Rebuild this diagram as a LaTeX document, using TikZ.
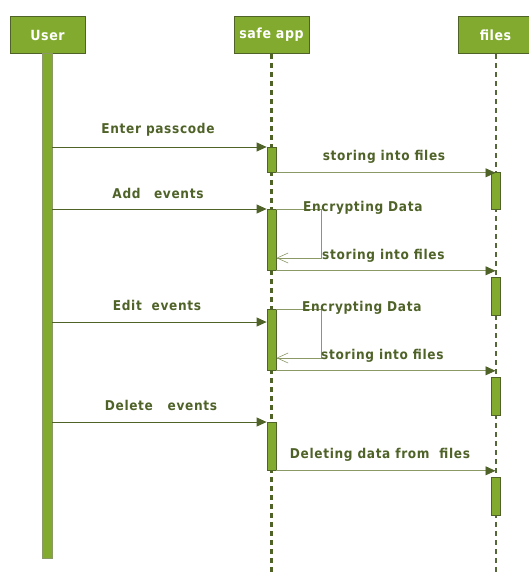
\documentclass[tikz,border=0pt]{standalone}
\usepackage{fontspec}
\setmainfont{DejaVu Sans}
\newfontfamily\narrowsans{DejaVu Sans Condensed}
\usetikzlibrary{arrows.meta}
\definecolor{leaf}{HTML}{82AA2E}
\definecolor{bark}{HTML}{4F6228}
\definecolor{moss}{HTML}{8A9966}
\definecolor{trail}{HTML}{55683A}
\tikzset{
  head/.style={draw=bark, line width=0.9pt, fill=leaf, minimum width=75pt, minimum height=37pt,
    inner sep=0pt, text=white, font=\narrowsans\bfseries\fontsize{14}{15}\selectfont\addfontfeatures{LetterSpace=4}},
  actbar/.style={draw=bark, line width=0.8pt, fill=leaf, minimum width=9pt, inner sep=0pt, anchor=north},
  userbar/.style={draw=moss, line width=0.6pt, fill=leaf, minimum width=10pt, inner sep=0pt, anchor=north},
  msg/.style={draw=bark, line width=0.8pt, -{Triangle[length=10pt,width=9pt]}},
  reply/.style={draw=moss, line width=0.8pt, -{Triangle[length=10pt,width=9pt,color=bark]}},
  selfmsg/.style={draw=moss, line width=0.8pt, -{Straight Barb[length=11pt,width=10pt,line width=0.6pt]}},
  lbl/.style={text=bark, font=\narrowsans\bfseries\fontsize{13.5}{14}\selectfont\addfontfeatures{LetterSpace=5}, inner sep=0pt},
  lifethick/.style={draw=bark, line width=2.6pt, dash pattern=on 5pt off 4pt},
  lifethin/.style={draw=trail, line width=2pt, dash pattern=on 5pt off 4pt},
}
\begin{document}
\begin{tikzpicture}[x=1pt,y=-1pt]
\useasboundingbox (0,0) rectangle (529,572);
\clip (0,0) rectangle (529,572);

% participant heads
\node[head] (user) at (47.5,35) {User};
\node[head] (app)  at (271.5,35) {safe app};
\node[head] (files) at (495.5,35) {files};

% lifelines
\coordinate (appEnd) at (271.5,572);
\coordinate (filesEnd) at (495.5,572);
\draw[lifethick] (app.south) -- (appEnd);
\draw[lifethin] (files.south) -- (filesEnd);

% user activation
\node[userbar, minimum height=505pt] (ubar) at (47,53) {};

% safe app activations
\node[actbar, minimum height=25pt] (a1) at (271.5,147) {};
\node[actbar, minimum height=61pt] (a2) at (271.5,209) {};
\node[actbar, minimum height=61pt] (a3) at (271.5,309) {};
\node[actbar, minimum height=48pt] (a4) at (271.5,422) {};

% files activations
\node[actbar, minimum height=37pt] (f1) at (496,172) {};
\node[actbar, minimum height=38pt] (f2) at (496,277) {};
\node[actbar, minimum height=38pt] (f3) at (496,377) {};
\node[actbar, minimum height=38pt] (f4) at (496,477) {};

% messages from the user
\draw[msg] (ubar.east |- a1.north) -- (a1.north west);
\node[lbl] (t1) at (158,130) {Enter passcode};
\draw[msg] (ubar.east |- a2.north) -- (a2.north west);
\node[lbl] (t3) at (158,193) {Add\quad events};
\coordinate (e3) at (a3.west |- 0,322);
\draw[msg] (ubar.east |- e3) -- (e3);
\node[lbl] (t6) at (157,305) {Edit\ \ events};
\draw[msg] (ubar.east |- a4.north) -- (a4.north west);
\node[lbl] (t9) at (161,405) {Delete\ \ \ events};

% app to files
\draw[reply] (a1.south east) -- (files.center |- a1.south);
\node[lbl] (t2) at (384,157) {storing into files};
\draw[reply] (a2.south east) -- (files.center |- a2.south);
\draw[reply] (a3.south east) -- (files.center |- a3.south);
\draw[reply] (a4.south east) -- (files.center |- a4.south);
\node[lbl] (t10) at (380,455) {Deleting data from\ \ files};

% self messages
\coordinate (s2) at (321,258);
\draw[selfmsg] (a2.north east) -| (s2) -- (a2.east |- s2);
\node[lbl, anchor=west] (t4) at (303,208) {Encrypting Data};
\node[lbl, anchor=west] (t5) at (322,256) {storing into files};
\coordinate (s3) at (321,358);
\draw[selfmsg] (a3.north east) -| (s3) -- (a3.east |- s3);
\node[lbl, anchor=west] (t7) at (302,308) {Encrypting Data};
\node[lbl, anchor=west] (t8) at (321,356) {storing into files};
\end{tikzpicture}
\end{document}
